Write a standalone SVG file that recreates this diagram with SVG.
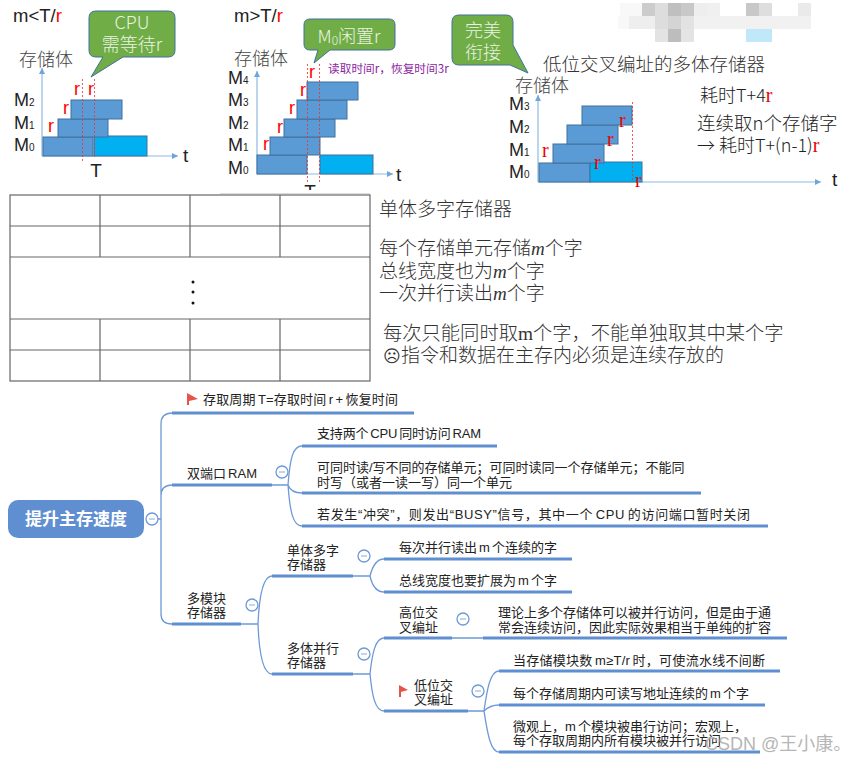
<svg xmlns="http://www.w3.org/2000/svg" width="858" height="762" viewBox="0 0 858 762">
<style>
text{font-family:"Liberation Sans","Noto Sans CJK SC",sans-serif;fill:#222}
.ser{font-family:"Liberation Serif","Noto Sans CJK SC",serif;font-weight:300;fill:#333}
.cjk{font-family:"Noto Sans CJK SC",sans-serif;font-weight:300}
.m{font-size:18px}.sub{font-size:10px}
.ml{font-size:18.500px}
.ax{font-size:19px}
.st{font-size:18px;fill:#444;font-family:"Noto Sans CJK SC",sans-serif;font-weight:300}
.r{font-size:18px;fill:#f00}
.rs{font-size:20px;fill:#e00;font-family:"Liberation Serif",serif}
.bar{fill:#5B9BD5;stroke:#41719C;stroke-width:1}
.cy{fill:#00B0F0;stroke:#41719C;stroke-width:1}
.axis{stroke:#8DB9E2;stroke-width:1.2;fill:none;marker-end:url(#ah)}
.dash{stroke:#f03030;stroke-width:.8;stroke-dasharray:2 2;fill:none}
.bub{fill:#70AD47;stroke:#41719C;stroke-width:1}
.bt{fill:#EAF3E2;font-size:18px;text-anchor:middle}
.grid{stroke:#666;stroke-width:1.2;fill:none}
.t19{font-size:19px}
.mm{font-size:13px;word-spacing:-1.500px}
.thick{stroke:#5F8FD0;stroke-width:3;fill:none}
.thin{stroke:#6C99D8;stroke-width:1.3;fill:none}
.col{fill:#fff;stroke:#6C99D8;stroke-width:1.3}
.minus{stroke:#9DB8DE;stroke-width:1.2}
.flag{fill:#E5534B}
</style>
<defs>
<marker id="ah" markerWidth="8" markerHeight="8" refX="6" refY="3" orient="auto" markerUnits="userSpaceOnUse"><path d="M0 0L6 3L0 6Z" fill="#6FA5DA"/></marker>
</defs>
<rect width="858" height="762" fill="#fff"/>

<g id="mosaic">
<rect x="620" y="3" width="22" height="13" fill="#f8f8f8"/><rect x="642" y="3" width="13" height="13" fill="#ccc"/><rect x="655" y="3" width="13" height="13" fill="#ddd"/><rect x="668" y="3" width="13" height="13" fill="#bfbfbf"/><rect x="681" y="3" width="13" height="13" fill="#c8c8c8"/><rect x="694" y="3" width="13" height="13" fill="#eee"/><rect x="707" y="3" width="13" height="13" fill="#f0f0f0"/><rect x="746" y="3" width="13" height="13" fill="#c8c8c8"/><rect x="759" y="3" width="13" height="13" fill="#dedede"/><rect x="798" y="3" width="13" height="13" fill="#eaeaea"/>
<rect x="618" y="16" width="11" height="13" fill="#f8f8f8"/><rect x="629" y="16" width="26" height="13" fill="#eee"/><rect x="655" y="16" width="13" height="13" fill="#ddd"/><rect x="668" y="16" width="13" height="13" fill="#d4d4d4"/><rect x="681" y="16" width="13" height="13" fill="#e2e2e2"/><rect x="694" y="16" width="117" height="13" fill="#f1f1f1"/>
<rect x="655" y="29" width="13" height="13" fill="#e3e3e3"/><rect x="668" y="29" width="13" height="13" fill="#bdbdbd"/><rect x="681" y="29" width="13" height="13" fill="#e4e4e4"/><rect x="746" y="29" width="26" height="13" fill="#c0e8f8"/>
</g>

<g id="panel1">
<text x="13" y="22" class="ml">m&lt;T/<tspan fill="#f00">r</tspan></text>
<path class="bub" d="M96 11H168Q175 11 175 18V50Q175 57 168 57H123L91 77L103 57H96Q89 57 89 50V18Q89 11 96 11Z"/>
<text class="bt cjk" style="fill:#EAF3E2"><tspan x="132" y="29">CPU</tspan><tspan x="132" y="51">需等待r</tspan></text>
<text x="19" y="66" class="st">存储体</text>
<path class="axis" d="M42 156V68"/><path class="axis" d="M42 156H178"/>
<text x="183" y="162" class="ax">t</text>
<text x="14" y="106" class="m">M<tspan class="sub">2</tspan></text><text x="14" y="129" class="m">M<tspan class="sub">1</tspan></text><text x="14" y="151" class="m">M<tspan class="sub">0</tspan></text>
<rect class="bar" x="43" y="137" width="50" height="19"/><rect class="cy" x="94" y="136" width="53" height="20"/><rect class="bar" x="58" y="119" width="50" height="18"/><rect class="bar" x="71" y="100" width="51" height="19"/>
<path class="dash" d="M82.500 79V162M94.500 79V158"/>
<text x="74" y="95" class="r">r</text><text x="88" y="95" class="r">r</text><text x="63" y="114" class="r">r</text><text x="48" y="132" class="r">r</text>
<text x="96" y="177" class="ax" text-anchor="middle">T</text>
</g>

<g id="panel2">
<text x="234" y="22" class="ml">m&gt;T/<tspan fill="#f00">r</tspan></text>
<path class="bub" d="M310 19H389Q395 19 395 25V44Q395 50 389 50H330L314 63L318 50H310Q304 50 304 44V25Q304 19 310 19Z"/>
<text x="349" y="43" class="bt cjk" style="fill:#EAF3E2">M<tspan font-size="12" dy="2">0</tspan><tspan dy="-2">闲置r</tspan></text>
<text x="234" y="65" class="st">存储体</text>
<path class="axis" d="M257 174V71"/><path class="axis" d="M257 174H393"/>
<text x="396" y="181" class="ax">t</text>
<text x="228" y="84" class="m">M<tspan class="sub">4</tspan></text><text x="228" y="106" class="m">M<tspan class="sub">3</tspan></text><text x="228" y="129" class="m">M<tspan class="sub">2</tspan></text><text x="228" y="151" class="m">M<tspan class="sub">1</tspan></text><text x="228" y="174" class="m">M<tspan class="sub">0</tspan></text>
<rect class="bar" x="257" y="155" width="50" height="19"/><rect class="cy" x="320" y="155" width="53" height="19"/><rect class="bar" x="270" y="137" width="50" height="18"/><rect class="bar" x="284" y="119" width="51" height="18"/><rect class="bar" x="297" y="100" width="50" height="19"/><rect class="bar" x="307" y="82" width="51" height="18"/>
<path class="dash" d="M307.500 64V183M319.500 64V183"/>
<text x="309" y="78" class="r">r</text><text x="300" y="96" class="r">r</text><text x="289" y="114" class="r">r</text><text x="277" y="133" class="r">r</text><text x="263" y="150" class="r">r</text>
<text x="310" y="198" class="ax" text-anchor="middle">T</text>
<text x="328" y="73" font-size="11.700" style="fill:#8B1FA0;font-family:'Noto Sans CJK SC',sans-serif">读取时间r，恢复时间3r</text>
</g>
<rect x="220" y="190" width="160" height="12" fill="#fff"/>
<path d="M220 193.500H370" stroke="#ddd" stroke-width="1"/>

<g id="panel3">
<path class="bub" d="M459 15H506Q513 15 513 22V45L528 73L510 65H459Q452 65 452 58V22Q452 15 459 15Z"/>
<text class="bt cjk" style="fill:#EAF3E2"><tspan x="483" y="37">完美</tspan><tspan x="483" y="59">衔接</tspan></text>
<text x="543" y="71" class="st" font-size="18.500" style="fill:#333;font-size:18.500px">低位交叉编址的多体存储器</text>
<text x="515" y="92" class="st">存储体</text>
<path class="axis" d="M538 182V95"/><path class="axis" d="M538 182H821"/>
<text x="832" y="186" class="ax">t</text>
<text x="509" y="110" class="m">M<tspan class="sub">3</tspan></text><text x="509" y="133" class="m">M<tspan class="sub">2</tspan></text><text x="509" y="156" class="m">M<tspan class="sub">1</tspan></text><text x="509" y="178" class="m">M<tspan class="sub">0</tspan></text>
<rect class="bar" x="539" y="163" width="51" height="19"/><rect class="cy" x="590" y="162" width="52" height="20"/><rect class="bar" x="553" y="144" width="51" height="19"/><rect class="bar" x="567" y="125" width="51" height="19"/><rect class="bar" x="582" y="106" width="50" height="19"/>
<path class="dash" d="M632.500 102V182"/>
<text x="542" y="157" class="rs">r</text><text x="619" y="127" class="rs">r</text><text x="607" y="146" class="rs">r</text><text x="594" y="169" class="rs">r</text><text x="635" y="187" class="rs">r</text>
<text x="700" y="102" font-size="18" class="cjk">耗时T+4<tspan class="rs">r</tspan></text>
<text x="697" y="130" font-size="18.500" class="cjk">连续取n个存储字</text>
<text x="697" y="152" font-size="18" class="cjk">→ 耗时T+(n-1)<tspan class="rs">r</tspan></text>
</g>

<g id="table">
<rect class="grid" x="10" y="195" width="360" height="186"/>
<path class="grid" d="M10 226H370M10 257H370M10 319H370M10 350H370M100 195V257M190 195V257M280 195V257M100 319V381M190 319V381M280 319V381"/>
<circle cx="193" cy="282" r="1.500" fill="#111"/><circle cx="193" cy="292" r="1.500" fill="#111"/><circle cx="193" cy="303" r="1.500" fill="#111"/>
</g>
<g id="table-notes">
<text x="379" y="216" class="ser t19">单体多字存储器</text>
<text x="379" y="255" class="ser t19">每个存储单元存储<tspan font-style="italic">m</tspan>个字</text>
<text x="379" y="278" class="ser t19">总线宽度也为<tspan font-style="italic">m</tspan>个字</text>
<text x="379" y="300" class="ser t19">一次并行读出<tspan font-style="italic">m</tspan>个字</text>
<text x="383" y="340" class="ser" font-size="19.300">每次只能同时取m个字，不能单独取其中某个字</text>
<text x="383" y="362" class="ser t19"><tspan font-family="DejaVu Sans" font-size="17">☹</tspan>指令和数据在主存内必须是连续存放的</text>
</g>

<g id="connectors">
<path class="thin" d="M158 519H161M172 413Q161 413 161 424V614Q161 624 172 624M161 496Q161 485 172 485"/>
<path class="thin" d="M272 485H288M302 446C293 446 290 458 288 485C290 512 293 526 302 526M288 485Q291 493 302 493"/>
<path class="thin" d="M241 624H258M272 576C262 576 259 600 258 624C259 650 262 674 272 674"/>
<path class="thin" d="M353 576H370M384 559C376 559 372 568 370 576C372 585 376 592 384 592"/>
<path class="thin" d="M353 674H370M384 638C375 638 372 655 370 674C372 695 375 711 384 711"/>
<path class="thin" d="M452 638H483M468 711H484M499 671C490 671 487 690 484 711M499 705Q490 705 484 711M484 711C487 730 490 752 499 752"/>
<path class="thick" d="M172 413H414M172 485H272M172 624H241"/>
<path class="thick" d="M302 446H497M302 493H701M302 526H768"/>
<path class="thick" d="M272 576H353M272 674H353M384 559H572M384 592H572"/>
<path class="thick" d="M384 638H452M483 638H787M384 711H468M499 671H780M499 705H765M499 752H760"/>
</g>

<g id="root">
<rect x="8" y="500" width="136" height="38" rx="10" fill="#5F8FD0"/>
<text x="76" y="525" font-size="17" font-weight="700" text-anchor="middle" style="fill:#fff">提升主存速度</text>
<circle class="col" cx="152" cy="519" r="6"/><path class="minus" d="M149 519H155"/>
</g>
<g id="node-period">
<path class="flag" d="M187 393L198 399L189 401V405H187Z"/>
<text x="203" y="404" class="mm" textLength="195">存取周期 T=存取时间 r + 恢复时间</text>
</g>
<g id="node-dual">
<text x="187" y="478" class="mm">双端口 RAM</text>
<circle class="col" cx="282" cy="472" r="6"/><path class="minus" d="M279 472H285"/>
</g>
<g id="node-dual-1"><text x="317" y="438" class="mm" textLength="164">支持两个 CPU 同时访问 RAM</text></g>
<g id="node-dual-2"><text x="317" y="472" class="mm">可同时读/写不同的存储单元；可同时读同一个存储单元；不能同</text><text x="317" y="487" class="mm">时写（或者一读一写）同一个单元</text></g>
<g id="node-dual-3"><text x="317" y="519" class="mm" textLength="433">若发生“冲突”，则发出“BUSY”信号，其中一个 CPU 的访问端口暂时关闭</text></g>
<g id="node-multi">
<text x="187" y="603" class="mm">多模块</text><text x="187" y="617" class="mm">存储器</text>
<circle class="col" cx="252" cy="605" r="6"/><path class="minus" d="M249 605H255"/>
</g>
<g id="node-single">
<text x="287" y="555" class="mm">单体多字</text><text x="287" y="569" class="mm">存储器</text>
<circle class="col" cx="364" cy="556" r="6"/><path class="minus" d="M361 556H367"/>
</g>
<g id="node-single-1"><text x="399" y="552" class="mm">每次并行读出 m 个连续的字</text></g>
<g id="node-single-2"><text x="399" y="585" class="mm">总线宽度也要扩展为 m 个字</text></g>
<g id="node-parallel">
<text x="287" y="653" class="mm">多体并行</text><text x="287" y="667" class="mm">存储器</text>
<circle class="col" cx="364" cy="654" r="6"/><path class="minus" d="M361 654H367"/>
</g>
<g id="node-high">
<text x="399" y="617" class="mm">高位交</text><text x="399" y="632" class="mm">叉编址</text>
<circle class="col" cx="463" cy="619" r="6"/><path class="minus" d="M460 619H466"/>
</g>
<g id="node-high-1"><text x="498" y="617" class="mm">理论上多个存储体可以被并行访问，但是由于通</text><text x="498" y="632" class="mm">常会连续访问，因此实际效果相当于单纯的扩容</text></g>
<g id="node-low">
<path class="flag" d="M399 685L408 690L401 692V697H399Z"/>
<text x="414" y="690" class="mm">低位交</text><text x="414" y="704" class="mm">叉编址</text>
<circle class="col" cx="478" cy="691" r="6"/><path class="minus" d="M475 691H481"/>
</g>
<g id="node-low-1"><text x="513" y="665" class="mm" textLength="252">当存储模块数 m≥T/r 时，可使流水线不间断</text></g>
<g id="node-low-2"><text x="513" y="698" class="mm">每个存储周期内可读写地址连续的 m 个字</text></g>
<g id="node-low-3"><text x="513" y="731" class="mm">微观上，m 个模块被串行访问；宏观上，</text><text x="513" y="745" class="mm">每个存取周期内所有模块被并行访问</text></g>
<text x="705" y="750" font-size="18" style="fill:#aaa" opacity=".85">CSDN @王小康。</text>
</svg>
